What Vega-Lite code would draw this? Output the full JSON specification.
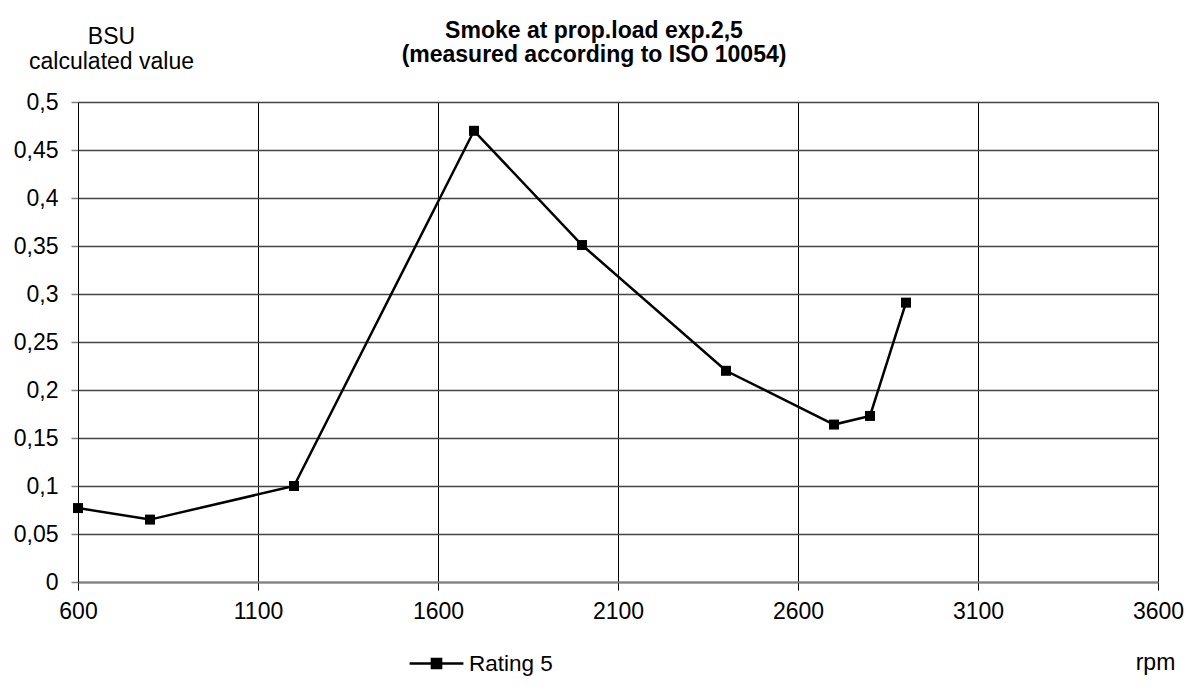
{
  "$schema": "https://vega.github.io/schema/vega-lite/v6.json",
  "width": 1080,
  "height": 480,
  "autosize": {"type": "none"},
  "padding": {"left": 78, "top": 102, "right": 39, "bottom": 114},
  "background": "white",
  "config": {
    "view": {"stroke": null},
    "font": "Liberation Sans"
  },
  "title": {
    "text": ["Smoke at prop.load exp.2,5", "(measured according to ISO 10054)"],
    "font": "Liberation Sans",
    "fontSize": 23,
    "fontWeight": "bold",
    "color": "black",
    "anchor": "middle",
    "frame": "group",
    "dx": -24,
    "dy": 52,
    "lineHeight": 24.5,
    "offset": 10
  },
  "data": {
    "values": [
      {"rpm": 600, "bsu": 0.077, "series": "Rating  5"},
      {"rpm": 800, "bsu": 0.065, "series": "Rating  5"},
      {"rpm": 1200, "bsu": 0.1, "series": "Rating  5"},
      {"rpm": 1700, "bsu": 0.47, "series": "Rating  5"},
      {"rpm": 2000, "bsu": 0.351, "series": "Rating  5"},
      {"rpm": 2400, "bsu": 0.22, "series": "Rating  5"},
      {"rpm": 2700, "bsu": 0.164, "series": "Rating  5"},
      {"rpm": 2800, "bsu": 0.173, "series": "Rating  5"},
      {"rpm": 2900, "bsu": 0.291, "series": "Rating  5"}
    ]
  },
  "encoding": {
    "x": {
      "field": "rpm",
      "type": "quantitative",
      "scale": {"domain": [600, 3600], "nice": false, "zero": false},
      "axis": {
        "values": [600, 1100, 1600, 2100, 2600, 3100, 3600],
        "format": "d",
        "title": "rpm",
        "titleFont": "Liberation Sans",
        "titleFontSize": 23,
        "titleFontWeight": "normal",
        "titleColor": "black",
        "titleAnchor": null,
        "titleAlign": "center",
        "titleBaseline": "alphabetic",
        "titleX": 1077,
        "titleY": 87,
        "labelFontSize": 23,
        "labelColor": "black",
        "labelBaseline": "alphabetic",
        "labelPadding": 28,
        "labelFlush": false,
        "tickSize": 8,
        "tickColor": "black",
        "tickWidth": 1,
        "domainColor": "#808080",
        "domainWidth": 2,
        "grid": true,
        "gridColor": "black",
        "gridWidth": 1
      }
    },
    "y": {
      "field": "bsu",
      "type": "quantitative",
      "scale": {"domain": [0, 0.5], "nice": false},
      "axis": {
        "values": [0, 0.05, 0.1, 0.15, 0.2, 0.25, 0.3, 0.35, 0.4, 0.45, 0.5],
        "labelExpr": "replace(format(datum.value, ''), '.', ',')",
        "title": ["BSU", "calculated value"],
        "titleFont": "Liberation Sans",
        "titleFontSize": 23,
        "titleFontWeight": "normal",
        "titleColor": "black",
        "titleAngle": 0,
        "titleAnchor": null,
        "titleAlign": "center",
        "titleBaseline": "alphabetic",
        "titleX": 33,
        "titleY": -59,
        "titleLineHeight": 25,
        "labelFontSize": 23,
        "labelColor": "black",
        "labelBaseline": "middle",
        "labelPadding": 13,
        "labelFlush": false,
        "tickSize": 7,
        "tickColor": "#808080",
        "tickWidth": 1.5,
        "domainColor": "black",
        "domainWidth": 1,
        "grid": true,
        "gridColor": "#444444",
        "gridWidth": 1.3
      }
    },
    "color": {
      "field": "series",
      "type": "nominal",
      "scale": {"range": ["black"]},
      "legend": {
        "title": null,
        "orient": "none",
        "legendX": 330,
        "legendY": 533,
        "padding": 0,
        "symbolType": "M-1,0H1M-0.17,-0.17H0.17V0.17H-0.17Z",
        "symbolSize": 2900,
        "symbolStrokeWidth": 2.5,
        "labelFont": "Liberation Sans",
        "labelFontSize": 22.5,
        "labelColor": "black",
        "labelOffset": 4,
        "encode": {
          "symbols": {"update": {"fill": {"value": "black"}, "stroke": {"value": "black"}, "opacity": {"value": 1}}}
        }
      }
    }
  },
  "layer": [
    {"mark": {"type": "line", "strokeWidth": 2.5}},
    {"mark": {"type": "point", "shape": "square", "filled": true, "size": 100, "opacity": 1}}
  ]
}
